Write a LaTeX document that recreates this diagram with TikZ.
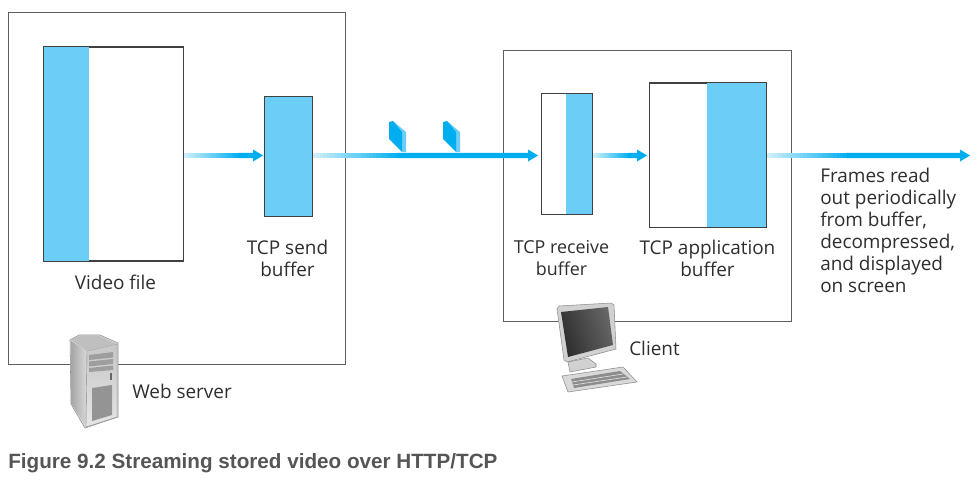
\documentclass[tikz,border=0pt]{standalone}
\usepackage{fontspec}
\setmainfont{Open Sans}
\newfontfamily\capfont{Liberation Sans}
\usetikzlibrary{calc}
\definecolor{bufblue}{RGB}{108,205,247}
\definecolor{arrblue}{RGB}{0,174,239}
\definecolor{boxline}{RGB}{95,95,95}
\definecolor{capgray}{RGB}{85,85,85}
\tikzset{
  panel/.style={draw=boxline,line width=0.9pt,fill=white,inner sep=0pt,anchor=north west},
  buf/.style={draw=black!75,line width=0.75pt,fill=white,inner sep=0pt,anchor=north west},
  lab/.style={font=\fontsize{14.2}{16.5}\selectfont,text=black!82,align=center,inner sep=0pt},
  metal/.style={draw=black!45,line width=0.4pt}
}
% \gradarrow{from}{to}{fade length}: fading band then solid shaft and head
\newcommand{\gradarrow}[3]{%
  \foreach \i in {0,...,24}{
    \pgfmathsetmacro{\pct}{18+82*\i/24}
    \fill[arrblue!\pct!white] ($(#1)+(#3*\i/24,-2.6)$) rectangle ($(#1)+(#3,2.6)$);
  }
  \fill[arrblue] ($(#1)+(#3,-2.6)$) -- ($(#2)+(-10,-2.6)$) -- ($(#2)+(-10,-6)$) -- (#2) -- ($(#2)+(-10,6)$) -- ($(#2)+(-10,2.6)$) -- ($(#1)+(#3,2.6)$) -- cycle;
}
\begin{document}
\begin{tikzpicture}[x=0.75pt,y=-0.75pt]
\useasboundingbox (0,0) rectangle (977,485);
\fill[white] (0,0) rectangle (977,485);
% panels
\node[panel,minimum width=337*0.75pt,minimum height=352*0.75pt] (server) at (8,12) {};
\node[panel,minimum width=288*0.75pt,minimum height=271*0.75pt] (clientbox) at (503,50) {};
% buffers
\node[buf,minimum width=139.5*0.75pt,minimum height=213*0.75pt] (file) at (43,47) {};
\fill[bufblue] (file.north west) rectangle ($(file.south west)+(46,0)$);
\draw[black!75,line width=0.75pt] (file.north west) rectangle (file.south east);
\node[buf,fill=bufblue,minimum width=47.5*0.75pt,minimum height=120*0.75pt] (send) at (264,96) {};
\node[buf,minimum width=50.5*0.75pt,minimum height=120.5*0.75pt] (recv) at (541,93) {};
\fill[bufblue] ($(recv.north west)+(24.5,0)$) rectangle (recv.south east);
\draw[black!75,line width=0.75pt] (recv.north west) rectangle (recv.south east);
\node[buf,minimum width=116.5*0.75pt,minimum height=144*0.75pt] (app) at (649,82.5) {};
\fill[bufblue] ($(app.north west)+(58,0)$) rectangle (app.south east);
\draw[black!75,line width=0.75pt] (app.north west) rectangle (app.south east);
% connectors
\coordinate (sink) at (970,155.5);
\gradarrow{file.east |- 0,155.5}{$(send.west |- 0,155.5)+(-1,0)$}{55}
\gradarrow{send.east |- 0,155.5}{$(recv.west |- 0,155.5)+(-3,0)$}{85}
\gradarrow{recv.east |- 0,155.5}{$(app.west |- 0,155.5)+(-2,0)$}{36}
\gradarrow{app.east |- 0,155.5}{sink}{80}
% segments
\foreach \x/\n in {389/sega,443/segb}{
  \fill[bufblue] (\x+4,121) -- (\x+17,132) -- (\x+17,152) -- (\x+13,152) -- (\x+13,133) -- cycle;
  \fill[arrblue] (\x,122) -- (\x+4,121) -- (\x+13,132) -- (\x+13,152) -- (\x,139) -- cycle;
}
% labels
\node[lab] (filelab) at (115.5,282) {Video file};
\node[lab] (sendlab) at (287.5,258) {TCP send\\buffer};
\node[lab,font=\fontsize{13.4}{16.5}\selectfont] (recvlab) at (561.5,258) {TCP receive\\buffer};
\node[lab] (applab) at (707.5,258) {TCP application\\buffer};
\node[lab,align=left,anchor=north west] (out) at (820,167.5) {Frames read\\out periodically\\from buffer,\\decompressed,\\and displayed\\on screen};
\node[lab,anchor=west] (weblab) at (132,391) {Web server};
\node[lab,anchor=west] (clientlab) at (629,348) {Client};
\node[anchor=west,inner sep=0pt,text=capgray,font=\capfont\bfseries\fontsize{15.5}{18}\selectfont] (cap) at (8,463.5) {Figure 9.2 Streaming stored video over HTTP/TCP};
% server tower
\fill[black!12,metal] (70,340) -- (79,335) -- (100,335) -- (118,343) -- (118,417) -- (85,428) -- (71,404) -- cycle;
\shade[left color=black!35,right color=black!15] (71,341) -- (87,351) -- (86,427) -- (71,403) -- cycle;
\shade[top color=black!22,bottom color=black!10,draw=black!45,line width=0.3pt] (87,351) -- (117,344) -- (117,417) -- (86,427) -- cycle;
\fill[black!25] (71,340) -- (79,336) -- (100,336) -- (117,344) -- (87,351) -- cycle;
\fill[black!38] (89,355) -- (113,352) -- (113,357.5) -- (89,360) -- cycle;
\fill[black!38] (89,361.5) -- (113,359) -- (113,364) -- (89,366.5) -- cycle;
\fill[black!38] (89,368) -- (113,365.5) -- (113,370) -- (89,372) -- cycle;
\fill[black!42] (92,388) -- (112,385) -- (112,415) -- (92,421) -- cycle;
\fill[black!60] (110,373) rectangle (112,380);
% monitor
\fill[black!15,metal] (562,376) -- (623,367) -- (637,382) -- (568,392) -- cycle;
\fill[black!45] (571,379) -- (620,371) -- (630,379) -- (574,388) -- cycle;
\draw[black!12,line width=0.5pt] (572,382) -- (623,374) (573,385) -- (627,377);
\fill[black!18,metal] (568,362) -- (588,358) -- (596,364) -- (596,367) -- (570,372) -- cycle;
\fill[black!18,metal] (557,309) -- (559,306) -- (611,303) -- (614,305) -- (616,349) -- (567,362) -- (564,360) -- cycle;
\shade[left color=black!82,middle color=black!30,right color=black!60,shading angle=110] (561,312) -- (608,307) -- (613,345) -- (568,357) -- cycle;
\end{tikzpicture}
\end{document}
